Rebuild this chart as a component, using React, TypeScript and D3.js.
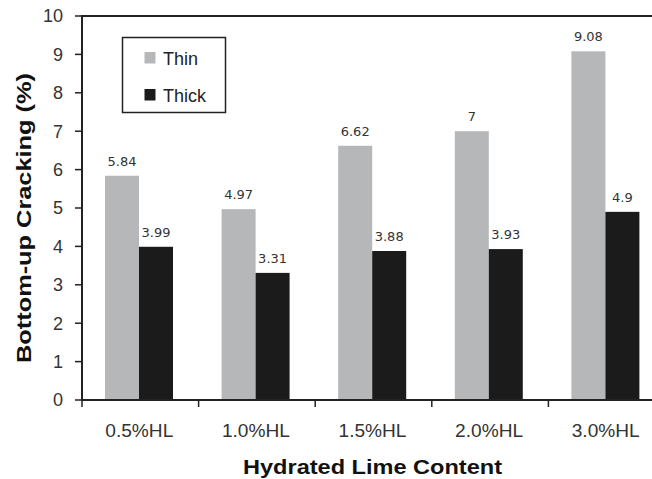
import React from "react";
import * as d3 from "d3";

const categories = ["0.5%HL", "1.0%HL", "1.5%HL", "2.0%HL", "3.0%HL"];
const seriesNames = ["Thin", "Thick"];
const thinValues = [5.84, 4.97, 6.62, 7, 9.08];
const thickValues = [3.99, 3.31, 3.88, 3.93, 4.9];
const yTicks = [0, 1, 2, 3, 4, 5, 6, 7, 8, 9, 10];
const seriesColors = ["#b6b7b9", "#1b1b1b"];

const W = 652;
const H = 479;
const left = 82;
const top = 16;
const bottom = 400;
const catW = 116.6;

export default function App() {
  const x = d3
    .scaleBand<string>()
    .domain(categories)
    .range([left, left + catW * categories.length])
    .padding(0);
  const bw = x.bandwidth();
  const xSub = d3
    .scaleBand<string>()
    .domain(seriesNames)
    .range([-1.3, bw - 1.3])
    .paddingInner(0)
    .paddingOuter(0.715);
  const y = d3.scaleLinear().domain([0, 10]).range([bottom, top]);
  const values = [thinValues, thickValues];
  const fmt = (v: number) => String(v);
  const tickXs = categories.map((c) => x(c)!).concat([x(categories[categories.length - 1])! + bw]);

  return (
    <svg
      width={W}
      height={H}
      style={{ position: "absolute", left: 0, top: 0, background: "#fff" }}
      fontFamily="'Liberation Sans', Arial, sans-serif"
    >
      <rect x={0} y={0} width={W} height={H} fill="#fff" />
      {/* bars */}
      {seriesNames.map((s, si) =>
        categories.map((c, ci) => {
          const v = values[si][ci];
          const bx = x(c)! + xSub(s)!;
          return (
            <g key={s + c}>
              <rect
                x={bx}
                y={y(v)}
                width={xSub.bandwidth()}
                height={y(0) - y(v)}
                fill={seriesColors[si]}
              />
              <text
                x={bx + xSub.bandwidth() / 2}
                y={y(v) - 10}
                textAnchor="middle"
                fontSize={13}
                fontFamily="'DejaVu Sans', sans-serif"
                fill="#333"
              >
                {fmt(v)}
              </text>
            </g>
          );
        })
      )}
      {/* frame top */}
      <line x1={left} x2={W} y1={top} y2={top} stroke="#222" strokeWidth={2} />
      {/* y axis */}
      <line x1={left} x2={left} y1={top - 1} y2={bottom + 1} stroke="#222" strokeWidth={2} />
      {yTicks.map((t) => (
        <g key={t}>
          <line x1={left - 7} x2={left} y1={y(t)} y2={y(t)} stroke="#222" strokeWidth={1.5} />
          <text
            x={63}
            y={y(t)}
            dy="0.36em"
            textAnchor="end"
            fontSize={18}
            fill="#333"
          >
            {t}
          </text>
        </g>
      ))}
      {/* x axis */}
      <line x1={left - 1} x2={W} y1={bottom} y2={bottom} stroke="#222" strokeWidth={2} />
      {tickXs.map((tx, i) => (
        <line key={i} x1={tx} x2={tx} y1={bottom} y2={bottom + 7} stroke="#222" strokeWidth={1.5} />
      ))}
      {categories.map((c) => (
        <text
          key={c}
          x={x(c)! + bw / 2 - 1}
          y={437}
          textAnchor="middle"
          fontSize={18}
          fill="#333"
          textLength={68}
          lengthAdjust="spacingAndGlyphs"
        >
          {c}
        </text>
      ))}
      {/* axis titles */}
      <text
        x={372.5}
        y={474}
        textAnchor="middle"
        fontSize={21}
        fontWeight="bold"
        fill="#111"
        textLength={259}
        lengthAdjust="spacingAndGlyphs"
      >
        Hydrated Lime Content
      </text>
      <text
        transform="translate(31,218) rotate(-90)"
        textAnchor="middle"
        fontSize={21}
        fontWeight="bold"
        fill="#111"
        textLength={290}
        lengthAdjust="spacingAndGlyphs"
      >
        Bottom-up Cracking (%)
      </text>
      {/* legend */}
      <rect x={122.5} y={37.5} width={103} height={75} fill="#fff" stroke="#222" strokeWidth={1.5} />
      {seriesNames.map((s, i) => (
        <g key={s}>
          <rect x={144.5} y={52 + i * 37} width={11} height={11.5} fill={seriesColors[i]} />
          <text x={163} y={65 + i * 37} fontSize={18} fill="#222">
            {s}
          </text>
        </g>
      ))}
    </svg>
  );
}
